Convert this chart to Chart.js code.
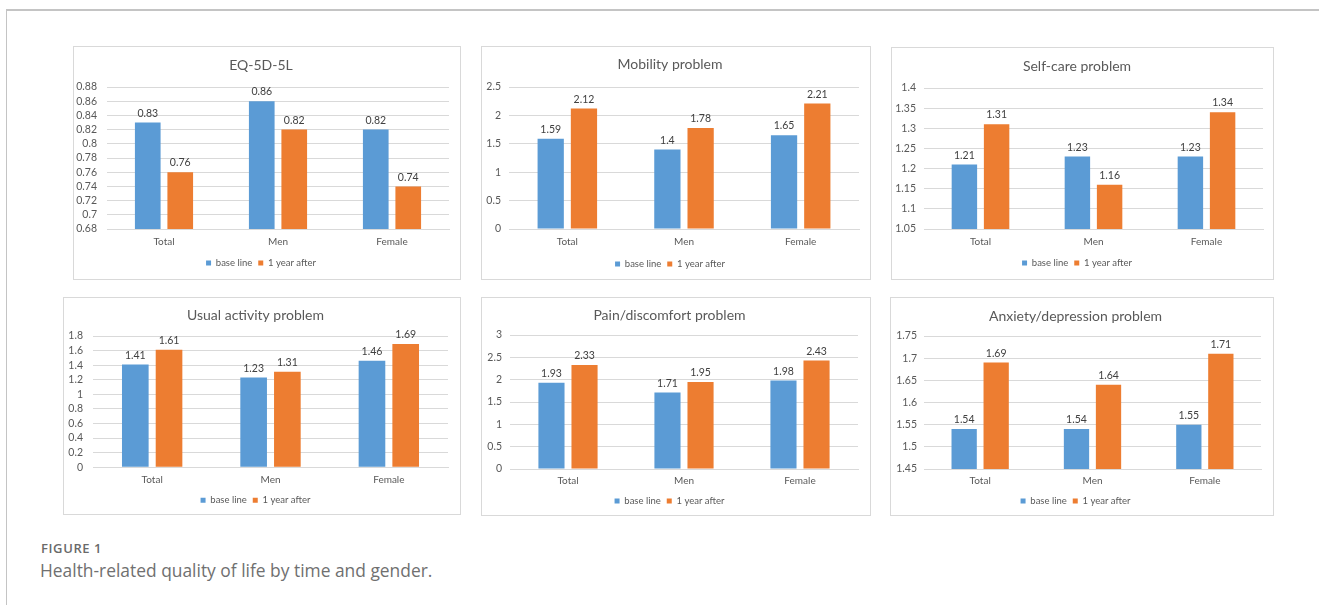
<!DOCTYPE html>
<html>
<head>
<meta charset="utf-8">
<script src="https://cdn.jsdelivr.net/npm/chart.js@4.4.0/dist/chart.umd.min.js"></script>
<style>
  html, body { margin: 0; padding: 0; background: #ffffff; }
  body { width: 1319px; height: 605px; position: relative; overflow: hidden; font-family: Lato, "Open Sans", sans-serif; }
  .frame { position: absolute; left: 6px; top: 9px; width: 1320px; height: 600px; border-top: 2px solid #c4c4c4; border-left: 1px solid #c4c4c4; }
  .panel { position: absolute; outline: 1px solid #d9d9d9; outline-offset: -1px; background: #fff; }
  .panel canvas { position: absolute; left: 0; top: 0; }
  .figlabel { position: absolute; left: 41px; top: 539px; font-family: "Open Sans", sans-serif; font-size: 13px; font-weight: 600; color: #6a6a6a; letter-spacing: 0.6px; white-space: nowrap; }
  .caption { position: absolute; left: 40px; top: 558px; font-family: "Open Sans", sans-serif; font-size: 17.4px; color: #707070; white-space: nowrap; }
</style>
</head>
<body>
<div class="frame"></div>
<div id="panels"></div>
<div class="figlabel">FIGURE 1</div>
<div class="caption">Health-related quality of life by time and gender.</div>
<script>
// ---------- data ----------
const categories = ['Total', 'Men', 'Female'];
const seriesNames = ['base line', '1 year after'];
const chartTitles = ['EQ-5D-5L', 'Mobility problem', 'Self-care problem', 'Usual activity problem', 'Pain/discomfort problem', 'Anxiety/depression problem'];

const eqBase = [0.83, 0.86, 0.82];
const eqAfter = [0.76, 0.82, 0.74];
const mobilityBase = [1.59, 1.4, 1.65];
const mobilityAfter = [2.12, 1.78, 2.21];
const selfCareBase = [1.21, 1.23, 1.23];
const selfCareAfter = [1.31, 1.16, 1.34];
const usualBase = [1.41, 1.23, 1.46];
const usualAfter = [1.61, 1.31, 1.69];
const painBase = [1.93, 1.71, 1.98];
const painAfter = [2.33, 1.95, 2.43];
const anxietyBase = [1.54, 1.54, 1.55];
const anxietyAfter = [1.69, 1.64, 1.71];

const eqTicks = [0.68, 0.7, 0.72, 0.74, 0.76, 0.78, 0.8, 0.82, 0.84, 0.86, 0.88];
const mobilityTicks = [0, 0.5, 1, 1.5, 2, 2.5];
const selfCareTicks = [1.05, 1.1, 1.15, 1.2, 1.25, 1.3, 1.35, 1.4];
const usualTicks = [0, 0.2, 0.4, 0.6, 0.8, 1, 1.2, 1.4, 1.6, 1.8];
const painTicks = [0, 0.5, 1, 1.5, 2, 2.5, 3];
const anxietyTicks = [1.45, 1.5, 1.55, 1.6, 1.65, 1.7, 1.75];

const seriesData = [[eqBase, eqAfter], [mobilityBase, mobilityAfter], [selfCareBase, selfCareAfter], [usualBase, usualAfter], [painBase, painAfter], [anxietyBase, anxietyAfter]];
const tickSets = [eqTicks, mobilityTicks, selfCareTicks, usualTicks, painTicks, anxietyTicks];

// ---------- layout (page pixels) ----------
// box: [left, top, right, bottom]; plot: [left, top, right, bottom]
const layouts = [
  { box: [73, 46, 461, 280], plot: [107, 87, 449, 229], titleY: 65, catY: 242, legY: 263, labelRight: 97 },
  { box: [481, 46, 871, 280], plot: [509, 87, 859, 229], titleY: 64, catY: 242, legY: 264, labelRight: 501 },
  { box: [891, 47, 1274, 280], plot: [924, 88, 1263, 229], titleY: 66, catY: 242, legY: 263, labelRight: 916 },
  { box: [63, 297, 461, 515], plot: [93, 336, 448, 468], titleY: 315, catY: 481, legY: 501, labelRight: 83 },
  { box: [481, 297, 871, 516], plot: [510, 335, 858, 469], titleY: 315, catY: 481, legY: 501, labelRight: 502 },
  { box: [890, 297, 1274, 516], plot: [924, 336, 1261, 469], titleY: 316, catY: 481, legY: 501, labelRight: 917 }
];

const BLUE = '#5b9bd5';
const ORANGE = '#ed7d31';
const TEXT = '#595959';
const GRID = '#d9d9d9';
const FONT = 'Lato, "Open Sans", sans-serif';

const valueLabels = {
  id: 'valueLabels',
  afterDatasetsDraw(chart) {
    const ctx = chart.ctx;
    ctx.save();
    ctx.font = '10.5px ' + FONT;
    ctx.fillStyle = '#404040';
    ctx.textAlign = 'center';
    ctx.textBaseline = 'bottom';
    chart.data.datasets.forEach((ds, di) => {
      const meta = chart.getDatasetMeta(di);
      meta.data.forEach((bar, i) => {
        ctx.fillText(String(ds.data[i]), bar.x, bar.y - 4);
      });
    });
    ctx.restore();
  }
};

function fmt(v) { return String(parseFloat(Number(v).toFixed(2))); }

const host = document.getElementById('panels');
layouts.forEach((L, k) => {
  const [bx, by, br, bb] = L.box;
  const [pl, pt, pr, pb] = L.plot;
  const w = br - bx, h = bb - by;
  const div = document.createElement('div');
  div.className = 'panel';
  div.style.left = bx + 'px'; div.style.top = by + 'px';
  div.style.width = w + 'px'; div.style.height = h + 'px';
  const cv = document.createElement('canvas');
  cv.width = w; cv.height = h;
  cv.style.width = w + 'px'; cv.style.height = h + 'px';
  div.appendChild(cv);
  host.appendChild(div);

  const titleSize = 14, titleLH = titleSize * 1.2;
  const legFont = 9.5, legPad = 6;
  const yWidth = pl - bx;
  const yPad = pl - L.labelRight;
  const titleTop = L.titleY - by - titleLH / 2;
  const titleBottom = pt - L.titleY - titleLH / 2;
  const xTickPad = L.catY - pb - 6;
  const xHeight = (L.legY - legFont / 2 - legPad) - pb;
  const legendHeight = legFont + legPad + 10;
  const padBottom = Math.max(0, bb - (pb + xHeight + legendHeight));
  const ticks = tickSets[k];

  new Chart(cv, {
    type: 'bar',
    data: {
      labels: categories,
      datasets: [
        { label: seriesNames[0], data: seriesData[k][0], backgroundColor: BLUE, borderWidth: 0 },
        { label: seriesNames[1], data: seriesData[k][1], backgroundColor: ORANGE, borderWidth: 0 }
      ]
    },
    options: {
      responsive: false,
      animation: false,
      devicePixelRatio: 1,
      datasets: { bar: { categoryPercentage: 0.57, barPercentage: 0.79 } },
      layout: { padding: { left: 0, top: 0, right: br - pr, bottom: padBottom } },
      plugins: {
        title: {
          display: true, text: chartTitles[k], color: TEXT,
          font: { family: FONT, size: titleSize, weight: 'normal' },
          padding: { top: titleTop, bottom: titleBottom }
        },
        legend: {
          position: 'bottom',
          labels: {
            color: TEXT, boxWidth: 5, boxHeight: 5, padding: legPad,
            font: { family: FONT, size: legFont }
          }
        },
        tooltip: { enabled: false }
      },
      scales: {
        x: {
          grid: { display: false, drawTicks: false },
          border: { display: true, color: GRID },
          ticks: { color: TEXT, padding: xTickPad, font: { family: FONT, size: 10 } },
          afterFit(scale) { scale.height = xHeight; }
        },
        y: {
          min: ticks[0], max: ticks[ticks.length - 1],
          grid: { color: GRID, drawTicks: false },
          border: { display: false },
          ticks: { color: TEXT, padding: yPad, autoSkip: false, callback: (v) => fmt(v), font: { family: FONT, size: 10.5 } },
          afterBuildTicks(scale) { scale.ticks = ticks.map(v => ({ value: v })); },
          afterFit(scale) { scale.width = yWidth; }
        }
      }
    },
    plugins: [valueLabels]
  });
});
</script>
</body>
</html>
